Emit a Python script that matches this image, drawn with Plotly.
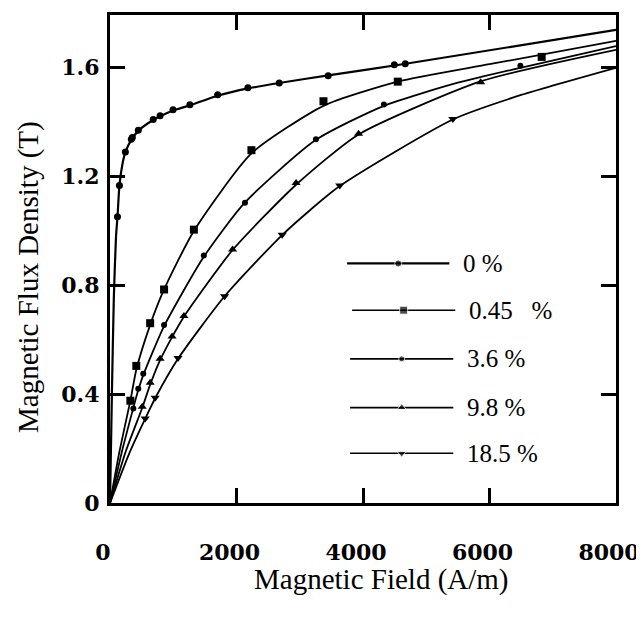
import plotly.graph_objects as go

# ---------------- data ----------------
series_names = ["0 %", "0.45\u00a0\u00a0\u00a0%", "3.6 %", "9.8 %", "18.5 %"]
marker_symbols = ["circle", "square", "circle", "triangle-up", "triangle-down"]
marker_sizes = [7, 8, 6, 8, 8]

# measured points (markers)
h_0 = [118, 149, 243, 337, 353, 447, 683, 792, 996, 1263, 1702, 2180, 2675, 3450, 4495, 4668]
b_0 = [1.052, 1.167, 1.290, 1.337, 1.344, 1.370, 1.410, 1.424, 1.446, 1.464, 1.501, 1.527, 1.544, 1.571, 1.611, 1.615]
h_045 = [322, 416, 635, 855, 1326, 2236, 3375, 4550, 6825]
b_045 = [0.376, 0.504, 0.661, 0.785, 1.005, 1.297, 1.477, 1.549, 1.640]
h_36 = [369, 447, 526, 855, 1483, 2134, 3256, 4330, 6488]
b_36 = [0.347, 0.420, 0.475, 0.654, 0.910, 1.104, 1.337, 1.465, 1.607]
h_98 = [510, 635, 792, 981, 1169, 1938, 2942, 3930, 5860]
b_98 = [0.354, 0.442, 0.530, 0.612, 0.687, 0.932, 1.176, 1.357, 1.547]
h_185 = [557, 714, 1075, 1812, 2722, 3632, 5421]
b_185 = [0.311, 0.387, 0.533, 0.760, 0.986, 1.167, 1.412]

# fitted curves (lines)
fh_0 = [0, 30, 60, 95, 118, 150, 200, 243, 337, 447, 683, 1000, 1263, 1702, 2180, 2675, 3450, 4600, 8000]
fb_0 = [0, 0.40, 0.75, 0.98, 1.05, 1.17, 1.25, 1.29, 1.335, 1.368, 1.408, 1.443, 1.462, 1.497, 1.524, 1.544, 1.572, 1.612, 1.739]
fh_045 = [0, 150, 322, 416, 635, 855, 1326, 2236, 3375, 4550, 6000, 8000]
fb_045 = [0, 0.19, 0.376, 0.49, 0.655, 0.785, 1.0, 1.285, 1.46, 1.549, 1.613, 1.699]
fh_36 = [0, 200, 369, 447, 526, 855, 1483, 2134, 3256, 4330, 5500, 6488, 8000]
fb_36 = [0, 0.20, 0.35, 0.415, 0.47, 0.65, 0.905, 1.105, 1.335, 1.46, 1.545, 1.60, 1.680]
fh_98 = [0, 250, 510, 635, 792, 981, 1169, 1938, 2942, 3930, 5860, 8000]
fb_98 = [0, 0.19, 0.35, 0.435, 0.525, 0.61, 0.685, 0.93, 1.17, 1.355, 1.55, 1.666]
fh_185 = [0, 300, 557, 714, 1075, 1812, 2722, 3632, 5421, 6500, 8000]
fb_185 = [0, 0.18, 0.31, 0.385, 0.53, 0.76, 0.985, 1.165, 1.41, 1.50, 1.600]

x_ticks = [0, 2000, 4000, 6000, 8000]
y_ticks = [0, 0.4, 0.8, 1.2, 1.6]

marker_h = [h_0, h_045, h_36, h_98, h_185]
marker_b = [b_0, b_045, b_36, b_98, b_185]
fit_h = [fh_0, fh_045, fh_36, fh_98, fh_185]
fit_b = [fb_0, fb_045, fb_36, fb_98, fb_185]

# ---------------- figure ----------------
PAGE_OFF = 8                      # default body margin of the html page
WIN_W, WIN_H = 644, 619
PL, PR, PT, PB = 110, 620, 12, 503   # plot area in window pixels
W, H = WIN_W - PAGE_OFF, WIN_H - PAGE_OFF
ML, MT = PL - PAGE_OFF, PT - PAGE_OFF
MR, MB = W - (PR - PAGE_OFF), H - (PB - PAGE_OFF)

TICK_FONT = dict(family="DejaVu Serif", size=22, color="black", weight="bold")
TITLE_FONT = dict(family="Liberation Serif, Times New Roman, serif", size=29, color="black")
LEG_FONT = dict(family="Liberation Serif, Times New Roman, serif", size=25, color="black")

def px_x(X):
    return (X - PL) / (PR - PL)

def px_y(Y):
    return (PB - Y) / (PB - PT)

fig = go.Figure()
for i in range(5):
    fig.add_trace(go.Scatter(
        x=fit_h[i], y=fit_b[i], mode="lines",
        line=dict(color="black", width=2.2 if i == 0 else 1.8, shape="spline", smoothing=0.6),
        showlegend=False, hoverinfo="skip"))
    fig.add_trace(go.Scatter(
        x=marker_h[i], y=marker_b[i], mode="markers",
        marker=dict(symbol=marker_symbols[i], size=marker_sizes[i], color="black"),
        showlegend=False, name=series_names[i]))

# custom legend on an overlay pixel-space axis
leg_rows_y = [262, 309, 358, 407, 453]
leg_line_x = [(349, 452), (354, 458), (352, 456), (352, 456), (352, 456)]
leg_text_x = [464, 470, 468, 468, 468]
for i in range(5):
    x0, x1 = leg_line_x[i]
    fig.add_trace(go.Scatter(
        x=[x0, (x0 + x1) / 2, x1], y=[leg_rows_y[i]] * 3,
        mode="lines+markers", xaxis="x2", yaxis="y2",
        line=dict(color="black", width=2.2 if i == 0 else 1.6),
        marker=dict(symbol=marker_symbols[i], size=[0, marker_sizes[i], 0], color="black"),
        showlegend=False, hoverinfo="skip"))
    fig.add_annotation(x=leg_text_x[i], y=leg_rows_y[i], xref="x2", yref="y2",
                       text=series_names[i], showarrow=False, xanchor="left",
                       yanchor="middle", font=LEG_FONT)

fig.update_layout(
    width=W, height=H,
    margin=dict(l=ML, r=MR, t=MT, b=MB, pad=0),
    paper_bgcolor="white", plot_bgcolor="white",
    showlegend=False,
    xaxis=dict(range=[0, 8000], tickvals=x_ticks, ticks="inside", ticklen=15, tickwidth=3,
               tickcolor="black", showline=True, linewidth=3, linecolor="black",
               mirror="ticks", showgrid=False, zeroline=False, tickfont=TICK_FONT,
               ticklabelstandoff=28, ticklabelshift=-7),
    yaxis=dict(range=[0, 1.794], tickvals=y_ticks, ticks="inside", ticklen=15, tickwidth=3,
               tickcolor="black", showline=True, linewidth=3, linecolor="black",
               mirror="ticks", showgrid=False, zeroline=False, tickfont=TICK_FONT,
               ticklabelstandoff=3),
    xaxis2=dict(overlaying="x", range=[PL, PR], visible=False, fixedrange=True),
    yaxis2=dict(overlaying="y", range=[PB, PT], visible=False, fixedrange=True),
)

fig.add_annotation(text="Magnetic Field (A/m)", xref="paper", yref="paper",
                   x=px_x(383.5), y=px_y(580),
                   showarrow=False, xanchor="center", yanchor="middle", font=TITLE_FONT)
fig.add_annotation(text="Magnetic Flux Density (T)", xref="paper", yref="paper",
                   x=px_x(28), y=px_y(276),
                   showarrow=False, xanchor="center", yanchor="middle", textangle=-90,
                   font=TITLE_FONT)

fig.write_html("out.html")
